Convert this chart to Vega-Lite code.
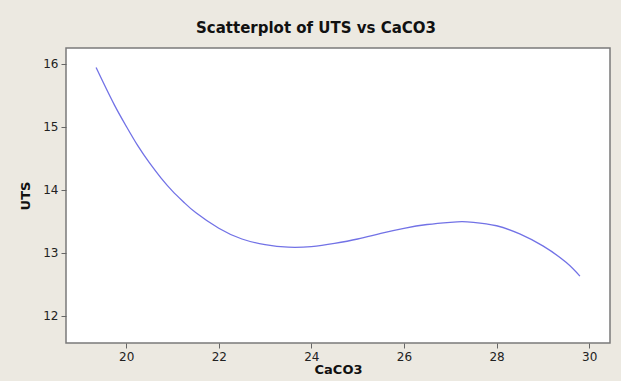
{
  "$schema": "https://vega.github.io/schema/vega-lite/v6.json",
  "autosize": "none",
  "width": 544,
  "height": 295,
  "padding": {"left": 66, "top": 48, "right": 11, "bottom": 38},
  "background": "#ECE9E1",
  "title": {
    "text": "Scatterplot of UTS vs CaCO3",
    "font": "DejaVu Sans",
    "fontSize": 15,
    "fontWeight": "bold",
    "color": "#111111",
    "anchor": "middle",
    "dx": -22,
    "offset": 12
  },
  "config": {
    "view": {"fill": "#FFFFFF", "stroke": "#7A7A7A", "strokeWidth": 1.5},
    "axis": {
      "grid": false,
      "domain": false,
      "tickColor": "#666666",
      "tickSize": 5,
      "labelFont": "DejaVu Sans",
      "labelFontSize": 12,
      "labelColor": "#222222",
      "labelPadding": 3,
      "titleFont": "DejaVu Sans",
      "titleFontSize": 13,
      "titleFontWeight": "bold",
      "titleColor": "#111111"
    }
  },
  "data": {
    "values": [
      {"CaCO3": 19.35, "UTS": 15.94},
      {"CaCO3": 19.5, "UTS": 15.71},
      {"CaCO3": 19.75, "UTS": 15.34},
      {"CaCO3": 20.0, "UTS": 15.01},
      {"CaCO3": 20.25, "UTS": 14.70},
      {"CaCO3": 20.5, "UTS": 14.43},
      {"CaCO3": 20.75, "UTS": 14.19},
      {"CaCO3": 21.0, "UTS": 13.98},
      {"CaCO3": 21.25, "UTS": 13.80},
      {"CaCO3": 21.5, "UTS": 13.64},
      {"CaCO3": 22.0, "UTS": 13.39},
      {"CaCO3": 22.5, "UTS": 13.22},
      {"CaCO3": 23.0, "UTS": 13.13},
      {"CaCO3": 23.5, "UTS": 13.09},
      {"CaCO3": 24.0, "UTS": 13.10},
      {"CaCO3": 24.5, "UTS": 13.15},
      {"CaCO3": 25.0, "UTS": 13.22},
      {"CaCO3": 25.5, "UTS": 13.31},
      {"CaCO3": 26.0, "UTS": 13.39},
      {"CaCO3": 26.5, "UTS": 13.45},
      {"CaCO3": 27.0, "UTS": 13.485},
      {"CaCO3": 27.25, "UTS": 13.495},
      {"CaCO3": 27.5, "UTS": 13.485},
      {"CaCO3": 28.0, "UTS": 13.43},
      {"CaCO3": 28.5, "UTS": 13.30},
      {"CaCO3": 29.0, "UTS": 13.11},
      {"CaCO3": 29.5, "UTS": 12.85},
      {"CaCO3": 29.8, "UTS": 12.63}
    ]
  },
  "mark": {"type": "line", "interpolate": "natural", "color": "#7272E6", "strokeWidth": 1.3},
  "encoding": {
    "x": {
      "field": "CaCO3",
      "type": "quantitative",
      "scale": {"domain": [18.7, 30.45], "nice": false, "zero": false},
      "axis": {"values": [20, 22, 24, 26, 28, 30], "title": "CaCO3", "titlePadding": 1}
    },
    "y": {
      "field": "UTS",
      "type": "quantitative",
      "scale": {"domain": [11.57, 16.25], "nice": false, "zero": false},
      "axis": {"values": [12, 13, 14, 15, 16], "title": "UTS", "titlePadding": 10}
    }
  }
}
